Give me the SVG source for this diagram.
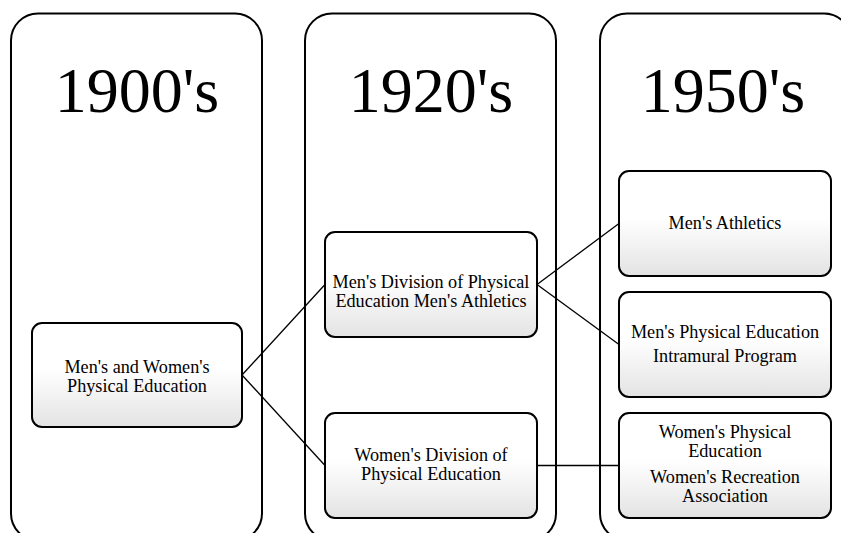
<svg xmlns="http://www.w3.org/2000/svg" width="841" height="533" viewBox="0 0 841 533">
<style>
.col{fill:#fff;stroke:#000;stroke-width:2}
.node{fill:url(#g);stroke:#000;stroke-width:2}
.yr{font-family:"Liberation Serif","Times New Roman",serif;font-size:64px;text-anchor:middle;fill:#000}
.t{font-family:"Liberation Serif","Times New Roman",serif;font-size:18.2px;text-anchor:middle;fill:#000}
.c{stroke:#000;stroke-width:1.3;fill:none}
</style>
<defs>
<linearGradient id="g" x1="0" y1="0" x2="0" y2="1">
<stop offset="0" stop-color="#fff"/>
<stop offset="0.45" stop-color="#fff"/>
<stop offset="1" stop-color="#e3e3e3"/>
</linearGradient>
</defs>
<rect width="841" height="533" fill="#fff"/>
<g id="col-1900"><rect class="col" x="11" y="13.5" width="251" height="527" rx="27"/><text class="yr" x="137" y="112">1900's</text></g>
<g id="col-1920"><rect class="col" x="305" y="13.5" width="251" height="527" rx="27"/><text class="yr" x="431" y="112">1920's</text></g>
<g id="col-1950"><rect class="col" x="600" y="13.5" width="251" height="527" rx="27"/><text class="yr" x="723" y="112">1950's</text></g>
<g id="connectors">
<line class="c" x1="242" y1="375" x2="325" y2="284.5"/>
<line class="c" x1="242" y1="375" x2="325" y2="465.5"/>
<line class="c" x1="537" y1="284.5" x2="619" y2="223.5"/>
<line class="c" x1="537" y1="284.5" x2="619" y2="344.5"/>
<line class="c" x1="537" y1="465.5" x2="619" y2="465.5"/>
</g>
<g id="node-mw"><rect class="node" x="32" y="323" width="210" height="104" rx="10"/><text class="t" x="137" y="372.5">Men's and Women's</text><text class="t" x="137" y="391.5">Physical Education</text></g>
<g id="node-md"><rect class="node" x="325" y="232" width="212" height="105" rx="10"/><text class="t" x="431" y="288">Men's Division of Physical</text><text class="t" x="431" y="307">Education Men's Athletics</text></g>
<g id="node-wd"><rect class="node" x="325" y="413" width="212" height="105" rx="10"/><text class="t" x="431" y="461">Women's Division of</text><text class="t" x="431" y="480">Physical Education</text></g>
<g id="node-ma"><rect class="node" x="619" y="171" width="212" height="105" rx="10"/><text class="t" x="725" y="228.5">Men's Athletics</text></g>
<g id="node-mpe"><rect class="node" x="619" y="292" width="212" height="105" rx="10"/><text class="t" x="725" y="338">Men's Physical Education</text><text class="t" x="725" y="362">Intramural Program</text></g>
<g id="node-wpe"><rect class="node" x="619" y="413" width="212" height="105" rx="10"/><text class="t" x="725" y="438">Women's Physical</text><text class="t" x="725" y="457">Education</text><text class="t" x="725" y="482.7">Women's Recreation</text><text class="t" x="725" y="501.7">Association</text></g>
</svg>
